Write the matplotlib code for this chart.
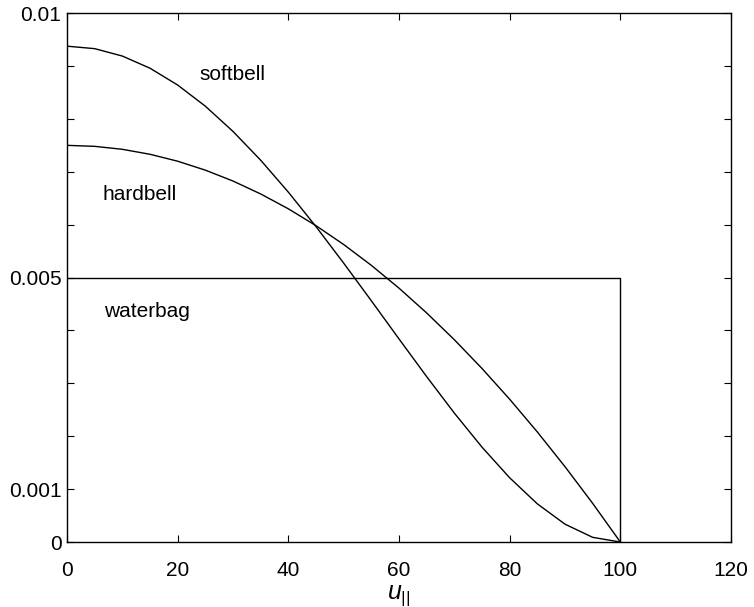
import matplotlib
matplotlib.use("Agg")
from matplotlib import pyplot as plt

plt.rcParams['font.family'] = ['Liberation Sans', 'DejaVu Sans']
plt.rcParams['mathtext.fontset'] = 'custom'
plt.rcParams['mathtext.rm'] = 'Liberation Sans'
plt.rcParams['mathtext.it'] = 'Liberation Sans:italic'

# velocity samples and the three distributions
u = [0, 5, 10, 15, 20, 25, 30, 35, 40, 45, 50,
     55, 60, 65, 70, 75, 80, 85, 90, 95, 100]
softbell = [0.009375, 0.009328, 0.009188, 0.008958, 0.00864, 0.00824, 0.007763,
            0.007219, 0.006615, 0.005963, 0.005273, 0.004561, 0.00384, 0.003127,
            0.002438, 0.001794, 0.001215, 0.000722, 0.000338, 0.0000891, 0.0]
hardbell = [0.0075, 0.007481, 0.007425, 0.007331, 0.0072, 0.007031, 0.006825,
            0.006581, 0.0063, 0.005981, 0.005625, 0.005231, 0.0048, 0.004331,
            0.003825, 0.003281, 0.0027, 0.002081, 0.001425, 0.000731, 0.0]
waterbag_u = [0, 100, 100]
waterbag_f = [0.005, 0.005, 0.0]

x_ticks = [0, 20, 40, 60, 80, 100, 120]
y_ticks = [0, 0.001, 0.002, 0.003, 0.004, 0.005, 0.006, 0.007, 0.008, 0.009, 0.01]
y_tick_labels = ['0', '0.001', '', '', '', '0.005', '', '', '', '', '0.01']

fig = plt.figure(figsize=(7.54, 6.07), dpi=100)
ax = fig.add_axes([0.0889, 0.107, 0.8806, 0.8714])

for f in (softbell, hardbell):
    ax.plot(u, f, color='black', lw=1.0)
ax.plot(waterbag_u, waterbag_f, color='black', lw=1.0)

ax.set_xlim(0, 120)
ax.set_ylim(0, 0.01)
ax.set_xticks(x_ticks)
ax.set_xticklabels([str(t) for t in x_ticks])
ax.set_yticks(y_ticks)
ax.set_yticklabels(y_tick_labels)
ax.tick_params(direction='in', top=True, right=True, length=5, width=0.8,
               labelsize=15)
ax.tick_params(axis='x', pad=14)
ax.tick_params(axis='y', pad=4)
for s in ax.spines.values():
    s.set_linewidth(1.0)

# curve names
ax.text(24.0, 0.00883, 'softbell', fontsize=15, ha='left', va='center')
ax.text(6.5, 0.00657, 'hardbell', fontsize=15, ha='left', va='center')
ax.text(6.7, 0.00435, 'waterbag', fontsize=15, ha='left', va='center')

ax.set_xlabel(r'$u_{||}$', fontsize=18, labelpad=2)

fig.savefig('out.png', dpi=100)
